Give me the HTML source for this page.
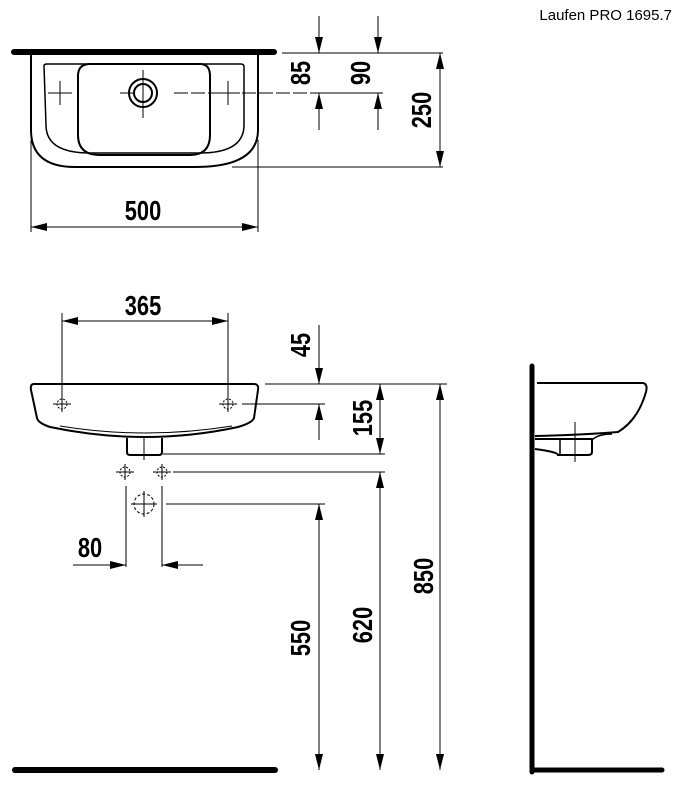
<!DOCTYPE html>
<html><head><meta charset="utf-8"><style>
html,body{margin:0;padding:0;background:#fff}
svg{display:block}
.d{font-family:"Liberation Sans",sans-serif;font-weight:bold;font-size:28px;fill:#000}
</style></head><body>
<svg width="680" height="796" viewBox="0 0 680 796" xmlns="http://www.w3.org/2000/svg">
<defs>
<marker id="a" viewBox="0 0 16 8" refX="16" refY="4" markerWidth="16" markerHeight="8" markerUnits="userSpaceOnUse" orient="auto-start-reverse"><path d="M0,0 L16,4 L0,8 Z" fill="#000"/></marker>
<g id="hm"><circle r="5" fill="none" stroke="#000" stroke-dasharray="2,1.5"/><path d="M-9,0H9M0,-8V8" stroke="#000" stroke-width="1"/></g>
</defs>
<text x="672" y="20" text-anchor="end" font-family="Liberation Sans,sans-serif" font-size="15">Laufen PRO 1695.7</text>
<g fill="none" stroke="#000">
<line x1="14" y1="52" x2="274" y2="52" stroke-width="6" stroke-linecap="round"/>
<path d="M31,55 V130 Q31,167 75,167 H195 Q258,167 258,130 V55" stroke-width="2"/>
<path d="M44,66 Q44,64 47,64 H241 Q244,64 244,67 V125 Q244,153 200,153 H90 Q46,153 46,125 Z" stroke-width="1.5"/>
<path d="M90,64 H200 Q210,64 210,76 V135 Q210,155 190,155 H100 Q78,155 78,135 V76 Q78,64 90,64 Z" stroke-width="2"/>
<circle cx="143" cy="93" r="14" stroke-width="2"/><circle cx="143" cy="93" r="9" stroke-width="2"/>
<path d="M48,93H72M60,81V105M216,93H240M228,81V105M143,70V118" stroke-width="1"/>
<path d="M120,93H134M174,93H318" stroke-width="1" stroke-dasharray="14,3"/>
<g stroke-width="1">
<line x1="282" y1="53" x2="443" y2="53"/><line x1="318" y1="93" x2="383" y2="93"/><line x1="232" y1="167" x2="443" y2="167"/>
<line x1="31" y1="140" x2="31" y2="232"/><line x1="258" y1="140" x2="258" y2="232"/>
<line x1="319" y1="16" x2="319" y2="53" marker-end="url(#a)"/><line x1="319" y1="130" x2="319" y2="93" marker-end="url(#a)"/>
<line x1="378" y1="16" x2="378" y2="53" marker-end="url(#a)"/><line x1="378" y1="130" x2="378" y2="93" marker-end="url(#a)"/>
<line x1="440" y1="53" x2="440" y2="167" marker-start="url(#a)" marker-end="url(#a)"/>
<line x1="31" y1="227" x2="258" y2="227" marker-start="url(#a)" marker-end="url(#a)"/>
</g>
<path d="M34,384 H254 Q259,384 258,390 L254,418 Q252,423 238,427 Q145,447 50,427 Q38,423 37,418 L31,390 Q30,384 34,384 Z" stroke-width="2"/>
<path d="M60,426 Q145,440 232,426" stroke-width="1"/>
<path d="M127,438 V452 Q127,455 130,455 H159 Q162,455 162,452 V438" stroke-width="2"/>
<line x1="144" y1="438" x2="144" y2="460" stroke-width="1"/>
<g stroke-width="1">
<line x1="62" y1="313" x2="62" y2="398"/><line x1="228" y1="313" x2="228" y2="398"/>
<line x1="62" y1="321" x2="228" y2="321" marker-start="url(#a)" marker-end="url(#a)"/>
<line x1="265" y1="384" x2="447" y2="384"/><line x1="242" y1="404" x2="325" y2="404"/>
<line x1="163" y1="454" x2="385" y2="454"/><line x1="173" y1="472" x2="385" y2="472"/><line x1="166" y1="504" x2="325" y2="504"/>
<line x1="319" y1="325" x2="319" y2="384" marker-end="url(#a)"/><line x1="319" y1="440" x2="319" y2="404" marker-end="url(#a)"/>
<line x1="380" y1="384" x2="380" y2="454" marker-start="url(#a)" marker-end="url(#a)"/>
<line x1="440" y1="384" x2="440" y2="770" marker-start="url(#a)" marker-end="url(#a)"/>
<line x1="380" y1="472" x2="380" y2="770" marker-start="url(#a)" marker-end="url(#a)"/>
<line x1="319" y1="504" x2="319" y2="770" marker-start="url(#a)" marker-end="url(#a)"/>
<line x1="126" y1="486" x2="126" y2="567"/><line x1="162" y1="486" x2="162" y2="567"/>
<line x1="73" y1="565" x2="126" y2="565" marker-end="url(#a)"/><line x1="203" y1="565" x2="162" y2="565" marker-end="url(#a)"/>
</g>
<use href="#hm" x="62" y="404"/><use href="#hm" x="228" y="404"/>
<use href="#hm" x="125" y="472"/><use href="#hm" x="162" y="472"/>
<circle cx="144" cy="504" r="10" stroke-dasharray="3,2"/><path d="M131,504H157M144,491V517" stroke-width="1"/>
<line x1="15" y1="770" x2="275" y2="770" stroke-width="6" stroke-linecap="round"/>
<line x1="532" y1="366" x2="532" y2="772" stroke-width="5" stroke-linecap="round"/>
<line x1="532" y1="770" x2="662" y2="770" stroke-width="5" stroke-linecap="round"/>
<path d="M537,383 H643 Q648,384 646,392 Q638,420 618,432 Q580,435 535,436" stroke-width="2"/>
<path d="M535,439 H592 V452 Q592,455 588,455 H558 Q558,452 535,449" stroke-width="2"/>
<path d="M560,440 V454 M592,440 Q598,434 612,434" stroke-width="1.5"/>
<line x1="575" y1="422" x2="575" y2="462" stroke-width="1"/>
</g>
<g class="d">
<text transform="translate(143,220) scale(0.78,1)" text-anchor="middle">500</text>
<text transform="translate(310,73) rotate(-90) scale(0.78,1)" text-anchor="middle">85</text>
<text transform="translate(370,73) rotate(-90) scale(0.78,1)" text-anchor="middle">90</text>
<text transform="translate(431,110) rotate(-90) scale(0.78,1)" text-anchor="middle">250</text>
<text transform="translate(143,315) scale(0.78,1)" text-anchor="middle">365</text>
<text transform="translate(310,345) rotate(-90) scale(0.78,1)" text-anchor="middle">45</text>
<text transform="translate(372,418) rotate(-90) scale(0.78,1)" text-anchor="middle">155</text>
<text transform="translate(433,576) rotate(-90) scale(0.78,1)" text-anchor="middle">850</text>
<text transform="translate(372,625) rotate(-90) scale(0.78,1)" text-anchor="middle">620</text>
<text transform="translate(310,638) rotate(-90) scale(0.78,1)" text-anchor="middle">550</text>
<text transform="translate(90,557) scale(0.78,1)" text-anchor="middle">80</text>
</g>
</svg>
</body></html>
